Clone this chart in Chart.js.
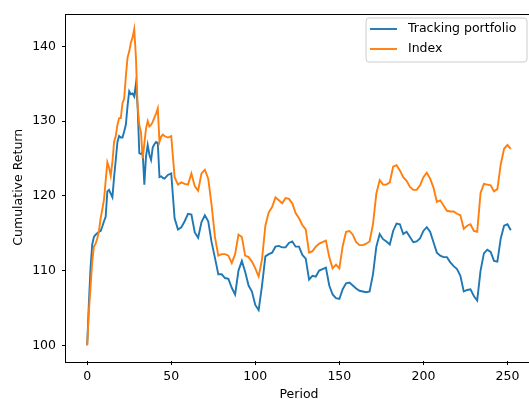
<!DOCTYPE html>
<html>
<head>
<meta charset="utf-8">
<script src="https://cdn.jsdelivr.net/npm/chart.js@4.4.1/dist/chart.umd.min.js"></script>
<style>
    html, body { margin: 0; padding: 0; background: #fff; overflow: hidden; }
    #wrap { width: 529px; height: 399px; overflow: hidden; }
</style>
</head>
<body>
<div id="wrap"><canvas id="chart" width="533" height="399"></canvas></div>
<script>
'use strict';

// периоды (до 46 - каждый, дальше - через один)
const periods = [
    0, 1, 2, 3, 4, 5, 6, 7, 8, 9, 10, 11, 12, 13, 14, 15, 16, 17, 18, 19,
    20, 21, 22, 23, 24, 25, 26, 27, 28, 29, 30, 31, 32, 33, 34, 35, 36, 37, 38, 39,
    40, 41, 42, 43, 44, 45, 46,
    48, 50, 52, 54, 56, 58, 60, 62, 64, 66, 68, 70, 72, 74, 76, 78, 80, 82, 84, 86,
    88, 90, 92, 94, 96, 98, 100, 102, 104, 106, 108, 110, 112, 114, 116, 118, 120, 122, 124, 126,
    128, 130, 132, 134, 136, 138, 140, 142, 144, 146, 148, 150, 152, 154, 156, 158, 160, 162, 164, 166,
    168, 170, 172, 174, 176, 178, 180, 182, 184, 186, 188, 190, 192, 194, 196, 198, 200, 202, 204, 206,
    208, 210, 212, 214, 216, 218, 220, 222, 224, 226, 228, 230, 232, 234, 236, 238, 240, 242, 244, 246,
    248, 250, 252,
];

const trackingValues = [
    100, 105.6, 110.4, 113.5, 114.5, 114.8, 115.0, 115.2, 115.3, 115.9, 116.6, 117.2, 120.6, 120.8, 120.3, 119.8, 122.5, 124.8, 127.2, 128.0,
    127.8, 127.8, 128.6, 129.5, 132.0, 134.0, 133.6, 133.7, 133.3, 135.0, 132.0, 125.7, 125.6, 125.9, 121.5, 125.3, 126.8, 125.5, 124.8, 126.5,
    126.9, 127.2, 127.1, 122.5, 122.6, 122.4, 122.3,
    122.8, 123.0, 117.0, 115.5, 115.8, 116.6, 117.6, 117.5, 115.1, 114.4, 116.5, 117.4, 116.6, 113.8, 111.7, 109.5, 109.5, 109.0, 108.9, 107.7,
    106.8, 110.0, 111.3, 109.8, 108.0, 107.2, 105.4, 104.7, 108.0, 111.9, 112.2, 112.4, 113.2, 113.3, 113.1, 113.1, 113.7, 113.9, 113.2, 113.2,
    112.1, 111.6, 108.8, 109.3, 109.2, 110.0, 110.2, 110.4, 108.0, 106.8, 106.3, 106.2, 107.5, 108.3, 108.4, 108.0, 107.6, 107.3, 107.2, 107.1,
    107.2, 109.5, 113.2, 114.9, 114.2, 113.9, 113.5, 115.3, 116.3, 116.2, 114.9, 115.2, 114.5, 113.8, 113.9, 114.3, 115.3, 115.8, 115.2, 113.8,
    112.4, 112.0, 111.8, 111.8, 111.1, 110.6, 110.2, 109.3, 107.2, 107.4, 107.5, 106.6, 106.0, 110.0, 112.3, 112.8, 112.5, 111.3, 111.2, 114.3,
    116.0, 116.2, 115.4,
];

const indexValues = [
    100, 104.5, 107.8, 111.2, 113.2, 113.6, 114.3, 115.3, 117.0, 118.2, 119.5, 122.0, 124.5, 123.8, 122.7, 124.5, 127.2, 128.0, 129.5, 130.4,
    130.4, 132.4, 133.0, 136.0, 138.5, 139.3, 140.5, 141.2, 142.3, 138.5, 132.0, 129.5, 128.5, 125.0, 127.0, 129.0, 130.0, 129.3, 129.5, 129.9,
    130.5, 131.0, 131.7, 127.2, 127.9, 128.2, 128.0,
    127.8, 128.0, 122.5, 121.5, 121.8, 121.6, 121.5, 123.0, 121.3, 120.7, 123.0, 123.5, 122.3, 118.8, 114.5, 112.0, 112.2, 112.2, 112.0, 111.0,
    112.2, 114.8, 114.5, 112.0, 111.8, 111.2, 110.3, 109.2, 111.5, 116.0, 117.8, 118.5, 119.8, 119.4, 119.0, 119.7, 119.6, 119.0, 117.7, 117.0,
    116.1, 115.5, 112.4, 112.6, 113.2, 113.6, 113.8, 114.0, 111.8, 110.3, 110.8, 110.3, 113.3, 115.2, 115.3, 114.8, 113.8, 113.4, 113.4, 113.6,
    113.9, 116.2, 120.3, 122.1, 121.5, 121.5, 121.8, 123.9, 124.1, 123.4, 122.5, 122.0, 121.2, 120.8, 120.8, 121.4, 122.5, 123.1, 122.3, 121.1,
    119.2, 119.4, 118.7, 118.0, 117.9, 117.9, 117.6, 117.4, 115.6, 116.0, 116.2, 115.3, 115.2, 120.4, 121.6, 121.5, 121.4, 120.6, 120.9, 124.2,
    126.3, 126.8, 126.3,
];

const seriesNames = ['Tracking portfolio', 'Index'];
const seriesColors = ['#1f77b4', '#ff7f0e'];

const xTicks = [0, 50, 100, 150, 200, 250];
const yTicks = [100, 110, 120, 130, 140];

const FONT = 'DejaVu Sans';
const FONT_SIZE = 12.5;

function toPoints(values) {
    return values.map((v, i) => ({ x: periods[i], y: v }));
}

// рамка со всех сторон и легенда в правом верхнем углу
const framePlugin = {
    id: 'frame',
    afterDraw(chart) {
        const ctx = chart.ctx;
        const a = chart.chartArea;
        ctx.save();
        ctx.strokeStyle = '#000';
        ctx.lineWidth = 1;
        ctx.strokeRect(Math.round(a.left) - 0.5, Math.round(a.top) + 0.5,
            Math.round(a.right - a.left) + 1, Math.round(a.bottom - a.top));

        // легенда
        const bx = 366, by = 18, bw = 161, bh = 44, r = 3;
        ctx.beginPath();
        ctx.moveTo(bx + r, by);
        ctx.arcTo(bx + bw, by, bx + bw, by + bh, r);
        ctx.arcTo(bx + bw, by + bh, bx, by + bh, r);
        ctx.arcTo(bx, by + bh, bx, by, r);
        ctx.arcTo(bx, by, bx + bw, by, r);
        ctx.closePath();
        ctx.fillStyle = 'rgba(255,255,255,0.8)';
        ctx.fill();
        ctx.strokeStyle = '#cccccc';
        ctx.lineWidth = 1;
        ctx.stroke();

        ctx.font = FONT_SIZE + 'px "' + FONT + '"';
        ctx.textBaseline = 'middle';
        ctx.textAlign = 'left';
        for (let i = 0; i < seriesNames.length; i++) {
            const y = 29 + i * 20;
            ctx.beginPath();
            ctx.moveTo(370, y);
            ctx.lineTo(397, y);
            ctx.strokeStyle = seriesColors[i];
            ctx.lineWidth = 1.9;
            ctx.stroke();
            ctx.fillStyle = '#000';
            ctx.fillText(seriesNames[i], 408, y);
        }
        ctx.restore();
    },
};

const ctx = document.getElementById('chart').getContext('2d');
const cfg = {
    type: 'line',
    data: {
        datasets: [
            {
                label: seriesNames[0],
                data: toPoints(trackingValues),
                borderColor: seriesColors[0],
                borderWidth: 1.9,
                pointRadius: 0,
                tension: 0,
                order: 1,
            },
            {
                label: seriesNames[1],
                data: toPoints(indexValues),
                borderColor: seriesColors[1],
                borderWidth: 1.9,
                pointRadius: 0,
                tension: 0,
                order: 0,
            },
        ],
    },
    options: {
        responsive: false,
        animation: false,
        layout: { padding: { top: 12, right: 1, left: 0, bottom: 0 } },
        plugins: {
            legend: { display: false },
            tooltip: { enabled: false },
        },
        scales: {
            x: {
                type: 'linear',
                min: -12.6,
                max: 264.6,
                afterBuildTicks: (scale) => { scale.ticks = xTicks.map((v) => ({ value: v })); },
                afterFit: (scale) => { scale.height = 38; },
                border: { display: false },
                grid: { drawOnChartArea: false, drawTicks: true, tickLength: 4, color: '#000', lineWidth: 1 },
                ticks: { color: '#000', padding: 4, maxRotation: 0, font: { family: FONT, size: FONT_SIZE } },
                title: {
                    display: true,
                    text: 'Period',
                    color: '#000',
                    padding: { top: 0, bottom: -3 },
                    font: { family: FONT, size: FONT_SIZE },
                },
            },
            y: {
                type: 'linear',
                min: 97.9,
                max: 144.4,
                afterBuildTicks: (scale) => { scale.ticks = yTicks.map((v) => ({ value: v })); },
                afterFit: (scale) => { scale.width = 66; },
                border: { display: false },
                grid: { drawOnChartArea: false, drawTicks: true, tickLength: 4, color: '#000', lineWidth: 1 },
                ticks: { color: '#000', padding: 6, font: { family: FONT, size: FONT_SIZE } },
                title: {
                    display: true,
                    text: 'Cumulative Return',
                    color: '#000',
                    padding: { top: 11, bottom: 0 },
                    font: { family: FONT, size: FONT_SIZE },
                },
            },
        },
    },
    plugins: [framePlugin],
};
new Chart(ctx, cfg);
</script>
</body>
</html>
